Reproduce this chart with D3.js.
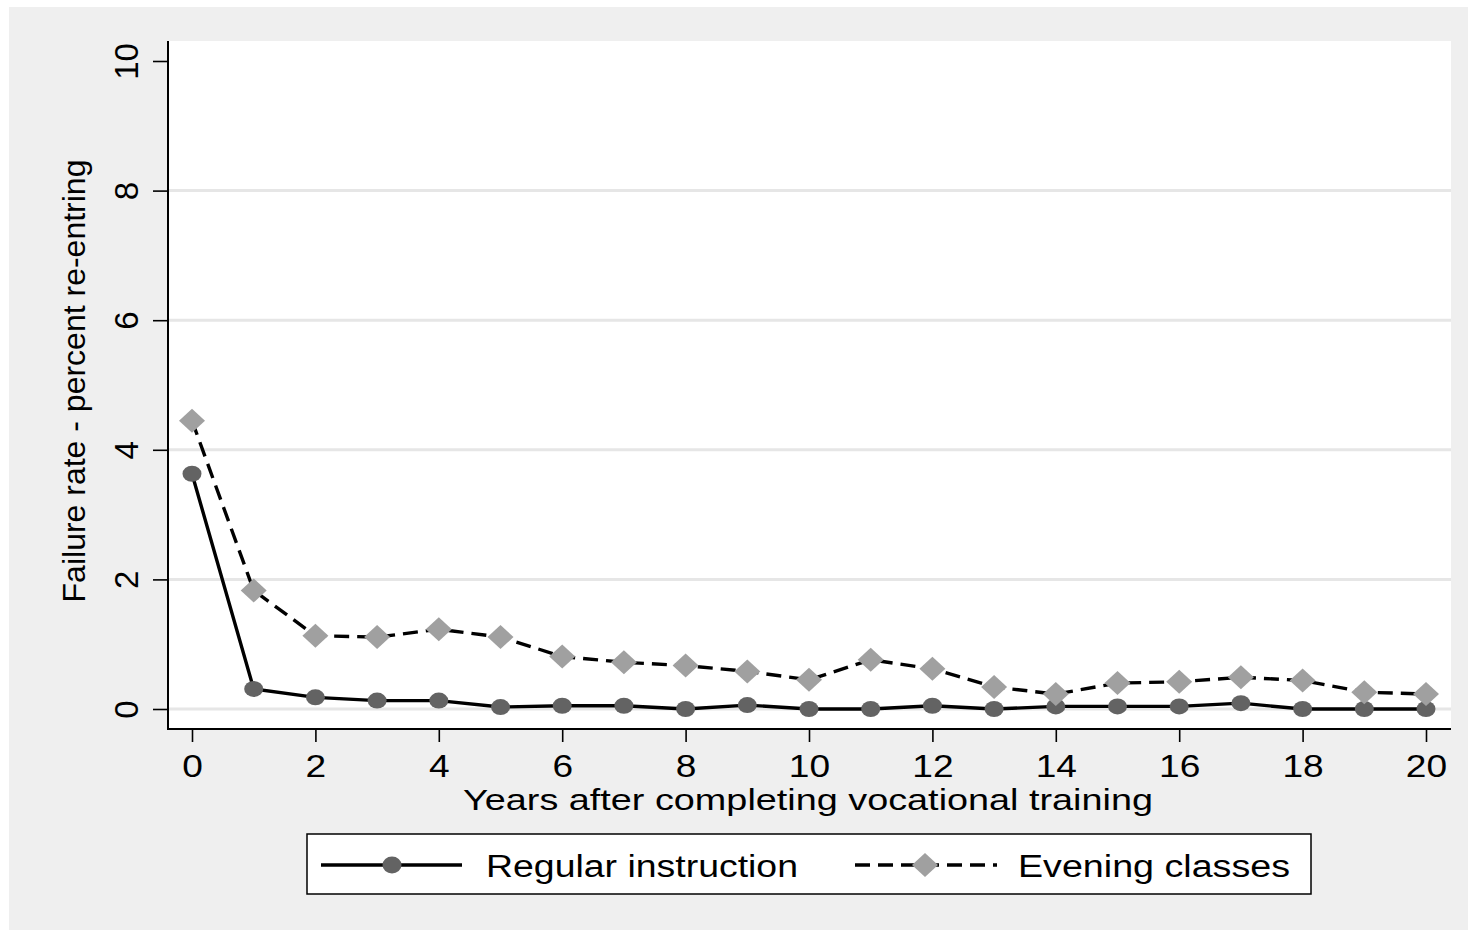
<!DOCTYPE html>
<html>
<head>
<meta charset="utf-8">
<script src="https://cdnjs.cloudflare.com/ajax/libs/d3/7.8.5/d3.min.js"></script>
<style>
  html, body { margin: 0; padding: 0; background: #fff; }
  svg { display: block; font-family: "Liberation Sans", Arial, sans-serif; }
</style>
</head>
<body>
<div id="chart"></div>
<script>
// years after completing training
const years = d3.range(0, 21);
// failure rate (%) - regular instruction
const regular = [3.63, 0.31, 0.18, 0.13, 0.13, 0.03, 0.05, 0.05, 0.00, 0.06, 0.00,
                 0.00, 0.05, 0.00, 0.04, 0.04, 0.04, 0.09, 0.00, 0.00, 0.00];
// failure rate (%) - evening classes
const evening = [4.45, 1.83, 1.13, 1.11, 1.23, 1.11, 0.81, 0.72, 0.67, 0.58, 0.45,
                 0.76, 0.62, 0.34, 0.23, 0.40, 0.42, 0.49, 0.44, 0.26, 0.23];
const yTicks = [0, 2, 4, 6, 8, 10];
const yGrid = [0, 2, 4, 6, 8];
const xTicks = [0, 2, 4, 6, 8, 10, 12, 14, 16, 18, 20];
const legendLabels = ["Regular instruction", "Evening classes"];

const W = 1468, H = 930;
const plot = { left: 169, right: 1451, top: 41, bottom: 729 };
const SX = 1.16; // horizontal stretch of the horizontal texts

const svg = d3.select("#chart").append("svg")
  .attr("width", W).attr("height", H);

// outer background
svg.append("rect").attr("x", 9).attr("y", 7).attr("width", W - 9).attr("height", H - 7)
  .attr("fill", "#efefef");
// plot region
svg.append("rect").attr("x", plot.left).attr("y", plot.top)
  .attr("width", plot.right - plot.left).attr("height", plot.bottom - plot.top)
  .attr("fill", "#fff");

const x = d3.scaleLinear().domain([0, 20]).range([192, 1426]);
const y = d3.scaleLinear().domain([0, 10]).range([709, 61]);

// grid
svg.append("g").selectAll("line").data(yGrid).enter().append("line")
  .attr("x1", plot.left).attr("x2", plot.right)
  .attr("y1", d => y(d)).attr("y2", d => y(d))
  .attr("stroke", "#e6e6e6").attr("stroke-width", 3);

// axes
const yAxis = svg.append("g").attr("transform", `translate(${plot.left - 1},0)`)
  .call(d3.axisLeft(y).tickValues(yTicks).tickSize(15).tickSizeOuter(0).tickPadding(0));
yAxis.select(".domain").remove();
yAxis.selectAll(".tick line").attr("stroke", "#000").attr("stroke-width", 1.6);
yAxis.selectAll(".tick text")
  .attr("x", null).attr("dy", null)
  .attr("transform", "translate(-30,0) rotate(-90)")
  .attr("text-anchor", "middle")
  .attr("font-size", 33).attr("font-family", "Liberation Sans, Arial, sans-serif")
  .attr("fill", "#000");

const xAxis = svg.append("g").attr("transform", `translate(0,${plot.bottom})`)
  .call(d3.axisBottom(x).tickValues(xTicks).tickSize(13).tickSizeOuter(0));
xAxis.select(".domain").remove();
xAxis.selectAll(".tick line").attr("stroke", "#000").attr("stroke-width", 1.6);
xAxis.selectAll(".tick text")
  .attr("y", 48).attr("dy", null)
  .attr("transform", `scale(${SX},1)`)
  .attr("font-size", 32).attr("font-family", "Liberation Sans, Arial, sans-serif")
  .attr("fill", "#000");

// axis lines
svg.append("line").attr("x1", plot.left - 1).attr("x2", plot.left - 1)
  .attr("y1", plot.top).attr("y2", plot.bottom + 1)
  .attr("stroke", "#000").attr("stroke-width", 2);
svg.append("line").attr("x1", plot.left - 1).attr("x2", plot.right)
  .attr("y1", plot.bottom).attr("y2", plot.bottom)
  .attr("stroke", "#000").attr("stroke-width", 2);

// axis titles
svg.append("text")
  .attr("transform", `translate(85,381) rotate(-90)`)
  .attr("text-anchor", "middle").attr("font-size", 32).attr("fill", "#000")
  .text("Failure rate - percent re-entring");
svg.append("text")
  .attr("x", 808).attr("y", 810)
  .attr("text-anchor", "middle").attr("font-size", 30).attr("fill", "#000")
  .attr("textLength", 690).attr("lengthAdjust", "spacingAndGlyphs")
  .text("Years after completing vocational training");

// series
const line = d3.line().x((d, i) => x(years[i])).y(d => y(d));
const DASH = "15,8";

svg.append("path").datum(evening).attr("d", line)
  .attr("fill", "none").attr("stroke", "#000").attr("stroke-width", 3.4)
  .attr("stroke-dasharray", DASH);
svg.append("path").datum(regular).attr("d", line)
  .attr("fill", "none").attr("stroke", "#000").attr("stroke-width", 3.4);

const diamond = (cx, cy) => `M${cx},${cy - 12}L${cx + 13},${cy}L${cx},${cy + 12}L${cx - 13},${cy}Z`;

svg.append("g").selectAll("ellipse").data(regular).enter().append("ellipse")
  .attr("cx", (d, i) => x(years[i])).attr("cy", d => y(d))
  .attr("rx", 9.5).attr("ry", 8).attr("fill", "#636363");
svg.append("g").selectAll("path").data(evening).enter().append("path")
  .attr("d", (d, i) => diamond(x(years[i]), y(d)))
  .attr("fill", "#a0a0a0");

// legend
const lg = svg.append("g");
lg.append("rect").attr("x", 307).attr("y", 834).attr("width", 1004).attr("height", 60)
  .attr("fill", "#fff").attr("stroke", "#000").attr("stroke-width", 1.5);
const ly = 865;
lg.append("line").attr("x1", 321).attr("x2", 462).attr("y1", ly).attr("y2", ly)
  .attr("stroke", "#000").attr("stroke-width", 3.4);
lg.append("ellipse").attr("cx", 392).attr("cy", ly).attr("rx", 9.5).attr("ry", 8.5)
  .attr("fill", "#636363");
lg.append("line").attr("x1", 855).attr("x2", 997).attr("y1", ly).attr("y2", ly)
  .attr("stroke", "#000").attr("stroke-width", 3.4).attr("stroke-dasharray", DASH);
lg.append("path").attr("d", diamond(925, ly)).attr("fill", "#a0a0a0");

const legendX = [486, 1018];
const legendW = [312, 272];
lg.selectAll("text.lab").data(legendLabels).enter().append("text")
  .attr("class", "lab")
  .attr("x", (d, i) => legendX[i]).attr("y", 877)
  .attr("font-size", 31).attr("fill", "#000")
  .attr("textLength", (d, i) => legendW[i]).attr("lengthAdjust", "spacingAndGlyphs")
  .text(d => d);
</script>
</body>
</html>
